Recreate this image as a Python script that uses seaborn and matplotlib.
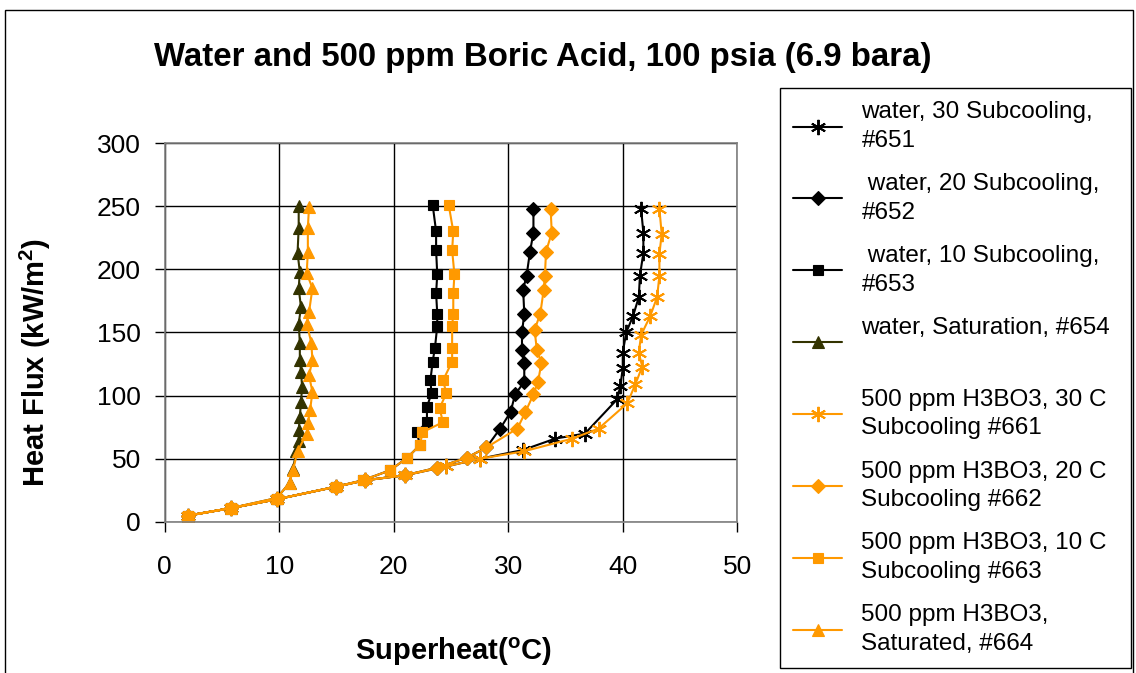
import numpy as np
import pandas as pd
import matplotlib
matplotlib.use('Agg')
import matplotlib.pyplot as plt
import seaborn as sns
from matplotlib.patches import Rectangle

# Datos (superheat en C, heat flux en kW/m2)
w30_x = [2.0, 5.8, 9.8, 15.0, 17.5, 21.0, 24.6, 27.5, 31.3, 34.1, 36.7, 39.5, 39.8, 40.0, 40.0, 40.3, 40.9, 41.4, 41.5, 41.8, 41.8, 41.6]
w30_y = [5, 11, 18, 28, 33, 37, 44, 50, 57, 66, 70, 97, 108, 122, 134, 150, 163, 178, 195, 213, 229, 248]

w20_x = [2.0, 5.8, 9.8, 15.0, 17.5, 21.0, 23.8, 26.4, 28.1, 29.3, 30.2, 30.6, 31.4, 31.4, 31.2, 31.2, 31.4, 31.3, 31.6, 31.9, 32.2, 32.2]
w20_y = [5, 11, 18, 28, 33, 37, 43, 51, 59, 74, 87, 101, 111, 126, 136, 150, 165, 184, 195, 214, 229, 248]

w10_x = [2.0, 5.8, 9.8, 15.0, 17.3, 19.7, 21.2, 22.3, 22.0, 22.9, 22.9, 23.3, 23.2, 23.4, 23.6, 23.8, 23.8, 23.7, 23.8, 23.7, 23.7, 23.4]
w10_y = [5, 11, 18, 28, 33, 41, 51, 61, 71, 79, 91, 102, 112, 127, 138, 155, 165, 181, 196, 215, 230, 251]

wsat_x = [2.0, 5.8, 9.8, 10.9, 11.2, 11.5, 11.7, 11.7, 11.8, 11.9, 12.0, 11.9, 11.8, 11.8, 11.7, 11.9, 11.7, 11.8, 11.6, 11.7, 11.7]
wsat_y = [5, 11, 19, 31, 42, 56, 64, 73, 83, 95, 107, 119, 128, 142, 157, 170, 185, 198, 213, 233, 250]

b30_x = [2.0, 5.8, 9.8, 15.0, 17.5, 21.0, 24.6, 27.5, 31.4, 35.6, 37.9, 40.4, 41.1, 41.7, 41.4, 41.6, 42.4, 43.0, 43.2, 43.2, 43.4, 43.2]
b30_y = [5, 11, 18, 28, 33, 37, 44, 50, 56, 66, 74, 94, 109, 123, 134, 148, 163, 178, 195, 212, 228, 248]

b20_x = [2.0, 5.8, 9.8, 15.0, 17.5, 21.0, 23.8, 26.4, 28.1, 30.8, 31.5, 32.2, 32.6, 32.9, 32.5, 32.3, 32.8, 33.1, 33.2, 33.3, 33.8, 33.7]
b20_y = [5, 11, 18, 28, 33, 37, 43, 51, 59, 74, 87, 101, 111, 126, 136, 152, 165, 184, 195, 214, 229, 248]

b10_x = [2.0, 5.8, 9.8, 15.0, 17.3, 19.7, 21.2, 22.3, 22.5, 24.3, 24.0, 24.6, 24.3, 25.1, 25.1, 25.1, 25.2, 25.2, 25.3, 25.1, 25.2, 24.8]
b10_y = [5, 11, 18, 28, 33, 41, 51, 61, 71, 79, 90, 102, 112, 127, 138, 155, 165, 181, 196, 215, 230, 251]

bsat_x = [2.0, 5.8, 9.8, 10.9, 11.2, 11.6, 12.4, 12.5, 12.7, 12.9, 12.6, 12.9, 12.8, 12.4, 12.6, 12.9, 12.4, 12.5, 12.5, 12.6]
bsat_y = [5, 11, 19, 31, 41, 56, 70, 78, 89, 103, 116, 128, 142, 157, 166, 185, 197, 214, 233, 249]

etiquetas = ['water, 30 Subcooling,\n#651',
             ' water, 20 Subcooling,\n#652',
             ' water, 10 Subcooling,\n#653',
             'water, Saturation, #654\n ',
             '500 ppm H3BO3, 30 C\nSubcooling #661',
             '500 ppm H3BO3, 20 C\nSubcooling #662',
             '500 ppm H3BO3, 10 C\nSubcooling #663',
             '500 ppm H3BO3,\nSaturated, #664']

negro = '#000000'
oliva = '#333300'
naranja = '#FF9900'
asterisco = (6, 2, 0)

series = [
    (w30_x, w30_y, negro, asterisco, 11),
    (w20_x, w20_y, negro, 'D', 7),
    (w10_x, w10_y, negro, 's', 7.5),
    (wsat_x, wsat_y, oliva, '^', 8.5),
    (b30_x, b30_y, naranja, asterisco, 11),
    (b20_x, b20_y, naranja, 'D', 7),
    (b10_x, b10_y, naranja, 's', 7.5),
    (bsat_x, bsat_y, naranja, '^', 8.5),
]

sns.set_style('white')
plt.rcParams['font.family'] = ['Liberation Sans', 'DejaVu Sans']
plt.rcParams['mathtext.fontset'] = 'custom'
plt.rcParams['mathtext.rm'] = 'Liberation Sans'
plt.rcParams['mathtext.bf'] = 'Liberation Sans:bold'
plt.rcParams['text.color'] = 'black'
plt.rcParams['axes.labelcolor'] = 'black'
plt.rcParams['xtick.color'] = 'black'
plt.rcParams['ytick.color'] = 'black'

fig = plt.figure(figsize=(11.36, 6.73), dpi=100)
ax = fig.add_axes([0.145, 0.2244, 0.504, 0.5631])

for (xs, ys, color, marker, ms), lab in zip(series, etiquetas):
    df = pd.DataFrame({'x': xs, 'y': ys})
    ancho = 1.4 if marker == asterisco else 0.8
    sns.lineplot(data=df, x='x', y='y', sort=False, estimator=None, ax=ax,
                 color=color, linewidth=1.5, marker=marker, markersize=ms,
                 markeredgecolor=color, markerfacecolor=color,
                 markeredgewidth=ancho, label=lab)

ax.get_legend().remove()

# Ejes
ax.set_xlim(0, 50)
ax.set_ylim(0, 300)
ax.set_xticks(range(0, 51, 10))
ax.set_yticks(range(0, 301, 50))
ax.grid(True, color='black', linewidth=1.0)
for s in ax.spines.values():
    s.set_color('#808080')
    s.set_linewidth(1.2)
ax.tick_params(axis='both', direction='out', length=7, width=1, colors='black',
               labelsize=19)
ax.tick_params(axis='x', pad=17)
ax.tick_params(axis='y', pad=10)
ax.tick_params(left=True, bottom=True)

ax.set_xlabel(r'Superheat($^\mathbf{o}$C)', fontsize=21, fontweight='bold')
ax.set_ylabel(r'Heat Flux (kW/m$^\mathbf{2}$)', fontsize=21, fontweight='bold')
ax.xaxis.set_label_coords(0.505, -0.30)
ax.yaxis.set_label_coords(-0.195, 0.42)

fig.text(0.478, 0.915, 'Water and 500 ppm Boric Acid, 100 psia (6.9 bara)',
         ha='center', va='center', fontsize=23.8, fontweight='bold')

# Leyenda
handles, labels = ax.get_legend_handles_labels()
leg = fig.legend(handles, labels, loc='upper left',
                 bbox_to_anchor=(780 / 1136, 1 - 88 / 673, 351 / 1136, 0),
                 mode='expand', fontsize=17.5, frameon=True, fancybox=False,
                 edgecolor='black', framealpha=1, borderaxespad=0,
                 handlelength=2.0, handletextpad=0.8, borderpad=0.55,
                 labelspacing=0.88)
leg.get_frame().set_linewidth(1.0)
for t in leg.get_texts():
    t.set_linespacing(1.38)

# Marco exterior
fig.patches.append(Rectangle((5 / 1136, -0.01), 1128 / 1136, 1.01 - 10 / 673,
                             transform=fig.transFigure, fill=False,
                             edgecolor='black', linewidth=1.0))

fig.savefig('out.png', dpi=100)
